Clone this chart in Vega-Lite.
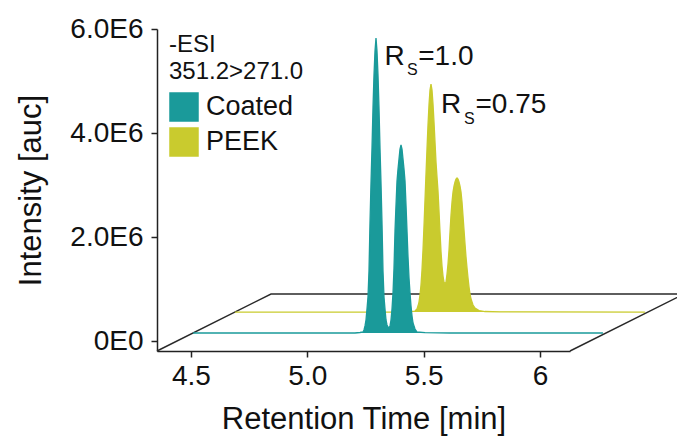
{
  "$schema": "https://vega.github.io/schema/vega-lite/v6.json",
  "width": 413,
  "height": 322,
  "autosize": {"type": "none"},
  "padding": {"left": 157, "top": 29, "right": 107, "bottom": 92},
  "background": "white",
  "config": {
    "view": {"stroke": null},
    "font": "Liberation Sans",
    "axis": {"grid": false, "domainColor": "#222", "domainWidth": 1.5, "tickColor": "#222", "tickWidth": 1.5, "tickSize": 6, "labelFont": "Liberation Sans", "labelFontSize": 28, "labelColor": "#111", "titleFont": "Liberation Sans", "titleFontSize": 31, "titleFontWeight": "normal", "titleColor": "#111"}
  },
  "datasets": {
    "coated": [
      {"series":"Coated","t":4.509,"v":156000},{"series":"Coated","t":4.969,"v":156000},{"series":"Coated","t":5.2049,"v":156000},{"series":"Coated","t":5.2264,"v":166000},{"series":"Coated","t":5.2393,"v":175000},{"series":"Coated","t":5.2436,"v":214000},{"series":"Coated","t":5.2479,"v":291000},{"series":"Coated","t":5.2522,"v":406000},{"series":"Coated","t":5.2565,"v":617000},{"series":"Coated","t":5.2608,"v":848000},{"series":"Coated","t":5.2651,"v":1348000},{"series":"Coated","t":5.2694,"v":2271000},{"series":"Coated","t":5.2737,"v":3040000},{"series":"Coated","t":5.2780,"v":3712000},{"series":"Coated","t":5.2823,"v":4481000},{"series":"Coated","t":5.2866,"v":5116000},{"series":"Coated","t":5.2909,"v":5577000},{"series":"Coated","t":5.2952,"v":5827000},{"series":"Coated","t":5.2995,"v":5577000},{"series":"Coated","t":5.3038,"v":5116000},{"series":"Coated","t":5.3081,"v":4481000},{"series":"Coated","t":5.3124,"v":3712000},{"series":"Coated","t":5.3167,"v":3040000},{"series":"Coated","t":5.3210,"v":2271000},{"series":"Coated","t":5.3253,"v":1348000},{"series":"Coated","t":5.3296,"v":848000},{"series":"Coated","t":5.3339,"v":617000},{"series":"Coated","t":5.3382,"v":406000},{"series":"Coated","t":5.3425,"v":310000},{"series":"Coated","t":5.3468,"v":271000},{"series":"Coated","t":5.3511,"v":252000},{"series":"Coated","t":5.3554,"v":291000},{"series":"Coated","t":5.3597,"v":406000},{"series":"Coated","t":5.3640,"v":617000},{"series":"Coated","t":5.3683,"v":925000},{"series":"Coated","t":5.3726,"v":1406000},{"series":"Coated","t":5.3769,"v":2117000},{"series":"Coated","t":5.3812,"v":2617000},{"series":"Coated","t":5.3855,"v":3078000},{"series":"Coated","t":5.3898,"v":3309000},{"series":"Coated","t":5.3941,"v":3501000},{"series":"Coated","t":5.3984,"v":3693000},{"series":"Coated","t":5.4027,"v":3770000},{"series":"Coated","t":5.4070,"v":3693000},{"series":"Coated","t":5.4113,"v":3501000},{"series":"Coated","t":5.4156,"v":3309000},{"series":"Coated","t":5.4199,"v":3078000},{"series":"Coated","t":5.4242,"v":2617000},{"series":"Coated","t":5.4285,"v":2117000},{"series":"Coated","t":5.4328,"v":1617000},{"series":"Coated","t":5.4371,"v":1213000},{"series":"Coated","t":5.4414,"v":925000},{"series":"Coated","t":5.4457,"v":675000},{"series":"Coated","t":5.4500,"v":483000},{"series":"Coated","t":5.4543,"v":348000},{"series":"Coated","t":5.4629,"v":233000},{"series":"Coated","t":5.4715,"v":175000},{"series":"Coated","t":5.5059,"v":162000},{"series":"Coated","t":5.6131,"v":156000},{"series":"Coated","t":6.2706,"v":156000}
    ],
    "peek": [
      {"series":"PEEK","t":4.689,"v":559000},{"series":"PEEK","t":5.3983,"v":559000},{"series":"PEEK","t":5.4413,"v":565000},{"series":"PEEK","t":5.4628,"v":578000},{"series":"PEEK","t":5.4714,"v":617000},{"series":"PEEK","t":5.4757,"v":674000},{"series":"PEEK","t":5.4800,"v":751000},{"series":"PEEK","t":5.4843,"v":886000},{"series":"PEEK","t":5.4886,"v":1078000},{"series":"PEEK","t":5.4929,"v":1366000},{"series":"PEEK","t":5.4972,"v":1751000},{"series":"PEEK","t":5.5015,"v":2212000},{"series":"PEEK","t":5.5058,"v":2712000},{"series":"PEEK","t":5.5101,"v":3212000},{"series":"PEEK","t":5.5144,"v":3692000},{"series":"PEEK","t":5.5187,"v":4154000},{"series":"PEEK","t":5.5230,"v":4538000},{"series":"PEEK","t":5.5273,"v":4827000},{"series":"PEEK","t":5.5316,"v":4942000},{"series":"PEEK","t":5.5359,"v":4827000},{"series":"PEEK","t":5.5402,"v":4558000},{"series":"PEEK","t":5.5445,"v":4212000},{"series":"PEEK","t":5.5488,"v":3827000},{"series":"PEEK","t":5.5531,"v":3443000},{"series":"PEEK","t":5.5574,"v":3154000},{"series":"PEEK","t":5.5617,"v":2885000},{"series":"PEEK","t":5.5660,"v":2501000},{"series":"PEEK","t":5.5703,"v":2097000},{"series":"PEEK","t":5.5746,"v":1722000},{"series":"PEEK","t":5.5789,"v":1443000},{"series":"PEEK","t":5.5832,"v":1251000},{"series":"PEEK","t":5.5875,"v":1136000},{"series":"PEEK","t":5.5918,"v":1097000},{"series":"PEEK","t":5.5961,"v":1136000},{"series":"PEEK","t":5.6004,"v":1290000},{"series":"PEEK","t":5.6047,"v":1482000},{"series":"PEEK","t":5.6090,"v":1751000},{"series":"PEEK","t":5.6133,"v":2097000},{"series":"PEEK","t":5.6176,"v":2424000},{"series":"PEEK","t":5.6219,"v":2674000},{"series":"PEEK","t":5.6262,"v":2866000},{"series":"PEEK","t":5.6305,"v":2981000},{"series":"PEEK","t":5.6348,"v":3058000},{"series":"PEEK","t":5.6391,"v":3116000},{"series":"PEEK","t":5.6434,"v":3135000},{"series":"PEEK","t":5.6477,"v":3116000},{"series":"PEEK","t":5.6520,"v":3058000},{"series":"PEEK","t":5.6563,"v":2981000},{"series":"PEEK","t":5.6606,"v":2866000},{"series":"PEEK","t":5.6649,"v":2674000},{"series":"PEEK","t":5.6692,"v":2405000},{"series":"PEEK","t":5.6735,"v":2135000},{"series":"PEEK","t":5.6778,"v":1866000},{"series":"PEEK","t":5.6821,"v":1616000},{"series":"PEEK","t":5.6864,"v":1405000},{"series":"PEEK","t":5.6907,"v":1213000},{"series":"PEEK","t":5.6950,"v":1040000},{"series":"PEEK","t":5.6993,"v":905000},{"series":"PEEK","t":5.7036,"v":809000},{"series":"PEEK","t":5.7122,"v":694000},{"series":"PEEK","t":5.7208,"v":636000},{"series":"PEEK","t":5.7380,"v":588000},{"series":"PEEK","t":5.7638,"v":569000},{"series":"PEEK","t":5.828,"v":563000},{"series":"PEEK","t":6.4511,"v":559000}
    ],
    "floor": [
      {"t":4.354,"v":-190000,"o":1},{"t":4.844,"v":905000,"o":2},{"t":6.619,"v":905000,"o":3},{"t":6.129,"v":-190000,"o":4}
    ],
    "notes": [
      {"t":5.3317,"v":5308000,"text":"R","kind":"main"},
      {"t":5.4284,"v":5115000,"text":"S","kind":"sub"},
      {"t":5.4769,"v":5308000,"text":"=1.0","kind":"main"},
      {"t":5.5744,"v":4385000,"text":"R","kind":"main"},
      {"t":5.6733,"v":4173000,"text":"S","kind":"sub"},
      {"t":5.7227,"v":4385000,"text":"=0.75","kind":"main"}
    ]
  },
  "encoding": {
    "x": {"field": "t", "type": "quantitative", "scale": {"domain": [4.354, 6.129], "nice": false, "zero": false},
      "axis": {"title": "Retention Time [min]", "values": [4.5, 5, 5.5, 6], "labelExpr": "datum.value == 6 ? '6' : format(datum.value, '.1f')", "labelPadding": 5, "titlePadding": 14}},
    "y": {"field": "v", "type": "quantitative", "scale": {"domain": [-190000, 6000000], "nice": false, "zero": false},
      "axis": {"title": "Intensity [auc]", "values": [0, 2000000, 4000000, 6000000], "labelExpr": "datum.value == 0 ? '0E0' : format(datum.value / 1000000, '.1f') + 'E6'", "labelPadding": 8, "titlePadding": 22}}
  },
  "layer": [
    {
      "data": {"name": "floor"},
      "mark": {"type": "line", "color": "#2a2a2a", "strokeWidth": 1.4},
      "encoding": {"order": {"field": "o", "type": "quantitative"}}
    },
    {
      "data": {"name": "peek"},
      "mark": {"type": "area", "opacity": 1, "line": {"strokeWidth": 1.3}},
      "encoding": {
        "y2": {"datum": 559000},
        "color": {"field": "series", "type": "nominal",
          "scale": {"domain": ["Coated", "PEEK"], "range": ["#1a9a9a", "#c9cb2e"]},
          "legend": {"orient": "none", "legendX": 12, "legendY": 4, "title": ["-ESI", "351.2>271.0"], "titleFontSize": 24, "titleFontWeight": "normal", "titleLineHeight": 27, "titlePadding": 8, "titleColor": "#111", "padding": 0,
            "symbolType": "square", "symbolSize": 784, "symbolStrokeColor": "#333", "symbolStrokeWidth": 1.5, "symbolOpacity": 1,
            "labelFontSize": 27, "labelOffset": 7, "labelColor": "#111", "rowPadding": 1,
            "encode": {"symbols": {"update": {"stroke": {"value": "#333"}, "strokeWidth": {"value": 1.5}}}}}}
      }
    },
    {
      "data": {"name": "coated"},
      "mark": {"type": "area", "opacity": 1, "line": {"strokeWidth": 1.3}},
      "encoding": {
        "y2": {"datum": 156000},
        "color": {"field": "series", "type": "nominal"}
      }
    },
    {
      "data": {"name": "notes"},
      "mark": {"type": "text", "align": "left", "baseline": "alphabetic", "color": "#111"},
      "encoding": {
        "text": {"field": "text"},
        "size": {"field": "kind", "type": "nominal", "scale": {"domain": ["main", "sub"], "range": [28, 16]}, "legend": null}
      }
    }
  ]
}
